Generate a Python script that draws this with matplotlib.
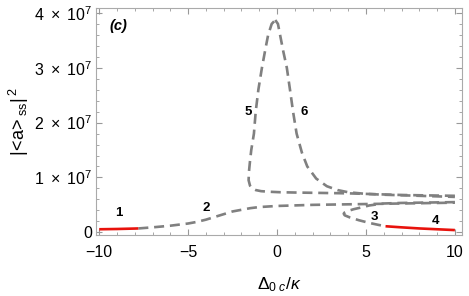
import matplotlib
matplotlib.use("Agg")
import matplotlib.pyplot as plt
from matplotlib.ticker import MultipleLocator, FixedLocator
import numpy as np

plt.rcParams['font.family'] = ['Liberation Sans', 'DejaVu Sans']
plt.rcParams['mathtext.fontset'] = 'custom'
plt.rcParams['mathtext.rm'] = 'Liberation Sans'
plt.rcParams['mathtext.it'] = 'Liberation Sans:italic'

S = 1e7
# branch 1 (stable, red)
b1_x = [-10, -9, -8, -7.8]
b1_y = [0.055, 0.06, 0.068, 0.07]
# branch 2 (unstable, dashed)
b2_x = [-7.8, -7, -6, -5, -4.5, -4, -3.5, -3, -2.5, -2, -1.5, -1, 0, 1, 2, 3, 4, 5, 6, 7, 8, 9, 10]
b2_y = [0.07, 0.09, 0.12, 0.16, 0.19, 0.23, 0.28, 0.33, 0.38, 0.41, 0.44, 0.46, 0.48, 0.49, 0.50,
        0.505, 0.51, 0.515, 0.52, 0.525, 0.53, 0.535, 0.54]
# branch 3 (fold, dashed)
b3_x = [10, 9, 8, 7, 6, 5.2, 4.7, 4.3, 4.0, 3.8, 3.75, 3.8, 4.1, 4.6, 5.2, 5.7, 6.1]
b3_y = [0.55, 0.545, 0.54, 0.535, 0.525, 0.49, 0.45, 0.42, 0.39, 0.36, 0.34, 0.31, 0.27, 0.22, 0.17, 0.135, 0.11]
# branch 4 (stable, red)
b4_x = [6.1, 7, 8, 9, 10]
b4_y = [0.11, 0.09, 0.07, 0.055, 0.04]
# branch 5 (dashed)
b5_x = [10, 9, 8, 7, 6, 5, 4, 3, 2, 1, 0.2, -0.5, -0.9, -1.2, -1.4, -1.52, -1.6, -1.58, -1.52,
        -1.45, -1.3, -1.2, -1.05, -0.85, -0.65, -0.5, -0.3, -0.1]
b5_y = [0.665, 0.67, 0.675, 0.68, 0.69, 0.70, 0.71, 0.715, 0.72, 0.725, 0.73, 0.74, 0.75, 0.77,
        0.8, 0.85, 0.95, 1.1, 1.3, 1.5, 1.8, 2.2, 2.6, 3.0, 3.35, 3.6, 3.8, 3.87]
# branch 6 (dashed)
b6_x = [-0.1, 0.05, 0.17, 0.35, 0.55, 0.75, 0.9, 1.1, 1.4, 1.7, 2.2, 2.8, 3.4, 4, 5, 6, 7, 8, 9, 10]
b6_y = [3.87, 3.8, 3.6, 3.3, 3.0, 2.55, 2.2, 1.8, 1.45, 1.2, 0.98, 0.84, 0.77, 0.73, 0.70,
        0.685, 0.675, 0.665, 0.655, 0.645]

labels = ['1', '2', '3', '4', '5', '6']
label_x = [-8.9, -4.0, 5.5, 8.9, -1.6, 1.5]
label_y = [0.36, 0.45, 0.27, 0.2, 2.2, 2.2]

yticks = [0, 1, 2, 3, 4]
ytick_labels = ['0', r'$1\ \times\ 10^{7}$', r'$2\ \times\ 10^{7}$', r'$3\ \times\ 10^{7}$',
                r'$4\ \times\ 10^{7}$']

fig = plt.figure(figsize=(4.69, 2.96), dpi=100)
ax = fig.add_axes([0.2047, 0.206, 0.780, 0.767])

gray = '#808080'
red = '#e8120c'
dash = dict(color=gray, lw=1.9, ls=(0, (3.8, 2.2)))
for bx, by in [(b2_x, b2_y), (b3_x, b3_y), (b5_x, b5_y), (b6_x, b6_y)]:
    ax.plot(bx, np.array(by) * S, **dash)
for bx, by in [(b1_x, b1_y), (b4_x, b4_y)]:
    ax.plot(bx, np.array(by) * S, color=red, lw=1.9, solid_capstyle='butt')

for t, lx, ly in zip(labels, label_x, label_y):
    ax.text(lx, ly * S, t, fontsize=9.5, fontweight='bold', ha='center', va='center')

ax.text(0.06, 0.92, '(c)', transform=ax.transAxes, fontsize=10.5, fontweight='bold',
        fontstyle='italic', ha='center', va='center')

ax.set_xlim(-10.18, 10.39)
ax.set_ylim(-0.05 * S, 4.09 * S)
ax.xaxis.set_major_locator(FixedLocator([-10, -5, 0, 5, 10]))
ax.xaxis.set_minor_locator(MultipleLocator(1))
ax.yaxis.set_major_locator(FixedLocator([v * S for v in yticks]))
ax.yaxis.set_minor_locator(MultipleLocator(0.2 * S))
ax.set_xticklabels(['\u221210', '\u22125', '0', '5', '10'])
ax.set_yticklabels(ytick_labels)
ax.tick_params(which='both', direction='in', top=True, right=True, color='#999999',
               labelsize=11.5)
ax.tick_params(axis='x', pad=7)
ax.tick_params(axis='y', pad=3)
ax.tick_params(which='major', length=4, width=0.8)
ax.tick_params(which='minor', length=2.2, width=0.6)
for s in ax.spines.values():
    s.set_color('#aaaaaa')
    s.set_linewidth(0.8)

ax.set_xlabel(r'$\Delta_{0\ c}/\kappa$', fontsize=12.5, labelpad=11)
ax.set_ylabel(r'$|\!<\!\mathrm{a}\!>_{\mathrm{ss}}|^{\,2}$', fontsize=13, labelpad=2)

fig.savefig('out.png', dpi=100)
